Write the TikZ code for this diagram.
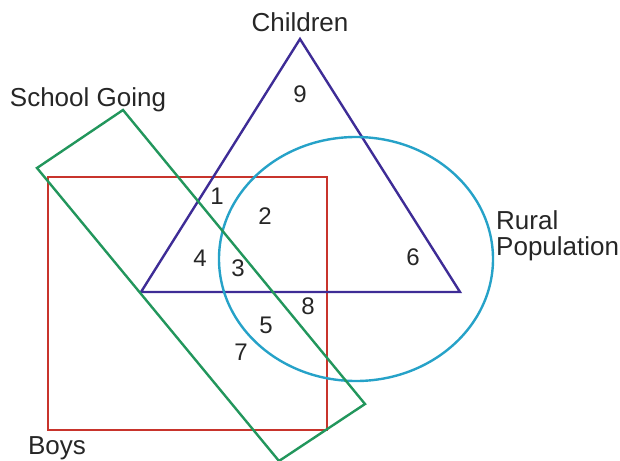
\documentclass[tikz,border=0pt]{standalone}
\usepackage{fontspec}
\setmainfont{Liberation Sans}
\usetikzlibrary{calc}
\definecolor{boyred}{RGB}{200,52,44}
\definecolor{kidblue}{RGB}{62,44,150}
\definecolor{ruralcyan}{RGB}{38,162,200}
\definecolor{schoolgreen}{RGB}{34,150,92}
\tikzset{
  setline/.style={line width=2.4pt, line join=miter},
  setlabel/.style={font=\fontsize{26}{26}\selectfont, text=black!85, inner sep=0pt},
  region/.style={font=\fontsize{24}{26}\selectfont, text=black!85, inner sep=0pt}
}
\begin{document}
\begin{tikzpicture}[x=1pt, y=-1pt]
  \useasboundingbox (0,0) rectangle (620,460);
  % Sets: boys (square), children (triangle), rural (circle), school going (tilted box).
  \draw[setline, boyred] (48,177) rectangle (327,430);
  \draw[setline, kidblue] (300,39) -- (460,292) -- (141,292) -- cycle;
  \draw[setline, ruralcyan] (356,259) ellipse [x radius=137, y radius=122];
  \draw[setline, schoolgreen] (123,110) -- (365,404) -- (279,461) -- (37,168) -- cycle;
  % Set names.
  \node[setlabel] (children) at (300,22) {Children};
  \node[setlabel] (school) at (88,100) {School Going};
  \node[setlabel, align=left, anchor=west] (rural) at (496,236) {Rural\\Population};
  \node[setlabel] (boys) at (57,448) {Boys};
  % Region numbers.
  \node[region] (r9) at (300,94) {9};
  \node[region] (r1) at (217,196) {1};
  \node[region] (r2) at (265,216) {2};
  \node[region] (r4) at (200,258) {4};
  \node[region] (r3) at (238,268) {3};
  \node[region] (r6) at (413,257) {6};
  \node[region] (r8) at (308,306) {8};
  \node[region] (r5) at (266,325) {5};
  \node[region] (r7) at (241,352) {7};
\end{tikzpicture}
\end{document}
